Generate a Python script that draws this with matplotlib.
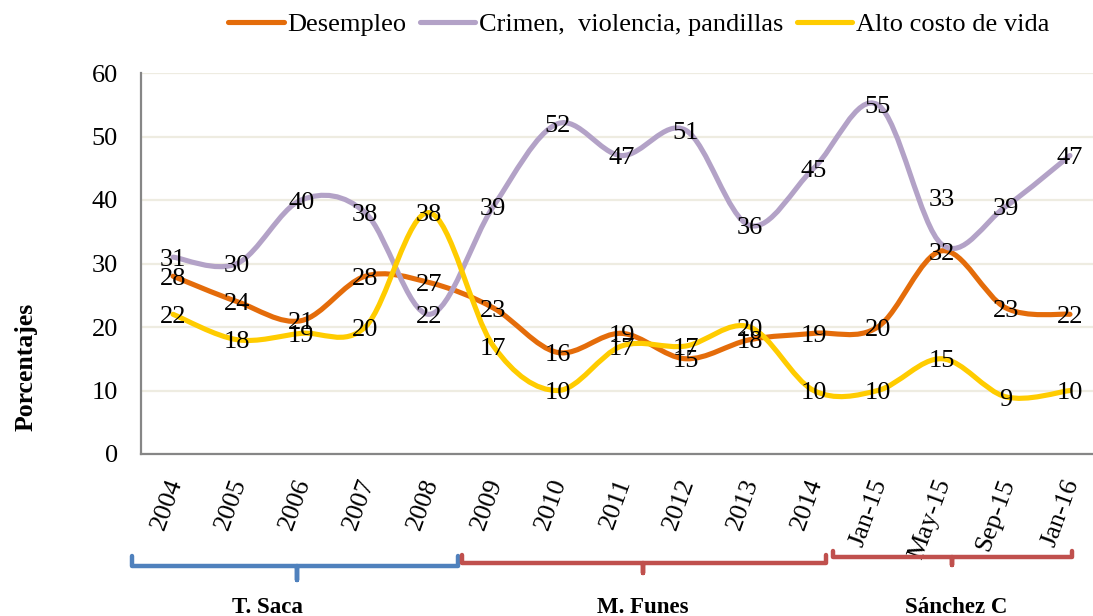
import numpy as np
import matplotlib
matplotlib.use('Agg')
import matplotlib.pyplot as plt
from matplotlib.path import Path
from matplotlib.patches import PathPatch
from matplotlib.lines import Line2D
import matplotlib.transforms as mtransforms

# ---------------- data ----------------
categories = ["2004", "2005", "2006", "2007", "2008", "2009", "2010", "2011",
              "2012", "2013", "2014", "Jan-15", "May-15", "Sep-15", "Jan-16"]
desempleo = [28, 24, 21, 28, 27, 23, 16, 19, 15, 18, 19, 20, 32, 23, 22]
crimen = [31, 30, 40, 38, 22, 39, 52, 47, 51, 36, 45, 55, 33, 39, 47]
costo_vida = [22, 18, 19, 20, 38, 17, 10, 17, 17, 20, 10, 10, 15, 9, 10]
series_names = ["Desempleo", "Crimen,  violencia, pandillas", "Alto costo de vida"]
y_ticks = [0, 10, 20, 30, 40, 50, 60]
group_names = ["T. Saca", "M. Funes", "Sánchez C"]

# ---------------- style / layout ----------------
FONT = "Liberation Serif"
plt.rcParams['font.family'] = [FONT, 'DejaVu Serif']
colors = ["#E46C0A", "#B3A2C7", "#FFCC00"]
W, H = 1093, 616
fig = plt.figure(figsize=(W / 100, H / 100), dpi=100)
ax = fig.add_axes([141 / W, (H - 454) / H, 961 / W, 381 / H])

ax.set_xlim(-0.5, len(categories) - 0.5)
ax.set_ylim(0, 60)
ax.set_yticks(y_ticks)
ax.set_yticklabels([str(t) for t in y_ticks], fontsize=19)
ax.yaxis.grid(True, color="#EEECE1", linewidth=1.6)
ax.set_axisbelow(True)
for s in ("top", "right"):
    ax.spines[s].set_visible(False)
for s in ("left", "bottom"):
    ax.spines[s].set_color("#868686")
    ax.spines[s].set_linewidth(1.6)
ax.tick_params(axis="y", length=0, pad=16.5)
ax.set_xticks(range(len(categories)))
ax.set_xticklabels(categories, rotation=70, ha="right", va="center",
                   rotation_mode="anchor", fontsize=19)
ax.tick_params(axis="x", length=0, pad=18.5)
shift = mtransforms.ScaledTranslation(3 / 100, 0, fig.dpi_scale_trans)
for lab in ax.get_xticklabels():
    lab.set_transform(lab.get_transform() + shift)


def smooth_path(xs, ys):
    pts = np.column_stack([xs, ys]).astype(float)
    n = len(pts)
    verts = [pts[0]]
    codes = [Path.MOVETO]
    for i in range(n - 1):
        p0 = pts[i - 1] if i > 0 else pts[i]
        p1 = pts[i]
        p2 = pts[i + 1]
        p3 = pts[i + 2] if i + 2 < n else pts[i + 1]
        c1 = p1 + (p2 - p0) / 6.0
        c2 = p2 - (p3 - p1) / 6.0
        verts += [c1, c2, p2]
        codes += [Path.CURVE4] * 3
    return Path(verts, codes)


x = np.arange(len(categories))
all_series = [desempleo, crimen, costo_vida]
for k, (vals, col) in enumerate(zip(all_series, colors)):
    patch = PathPatch(smooth_path(x, vals), facecolor="none", edgecolor=col,
                      lw=3.7, capstyle="round", joinstyle="round", zorder=3 + k)
    ax.add_patch(patch)

# data labels (centered on points); one label moved up as in the original
label_offsets = {(1, 12): 47}
for k, vals in enumerate(all_series):
    for i, v in enumerate(vals):
        dy = label_offsets.get((k, i), 0)
        ax.annotate(str(v), (i, v), xytext=(0, -8.7 + dy), textcoords="offset pixels",
                    ha="center", va="baseline", fontsize=19, color="black",
                    zorder=10, annotation_clip=False)

# legend
handles = [Line2D([0], [0], color=c, lw=3.7, solid_capstyle="round") for c in colors]
fig.legend(handles, series_names, loc="center", bbox_to_anchor=(639 / W, 1 - 24.5 / H),
           ncol=3, frameon=False, handlelength=2.1, handletextpad=0.15,
           columnspacing=0.5, prop={"family": FONT, "size": 19})

# y label
fig.text(26 / W, 1 - 367 / H, "Porcentajes", rotation=90, ha="center", va="center",
         fontsize=18.5, fontweight="bold")

# group brackets (x in category units, y in figure pixels from top)
bracket_colors = ["#4F81BD", "#C0504D", "#C0504D"]
bracket_span = [(-0.64, 1.93, 4.45), (4.51, 7.34, 10.19), (10.30, 12.16, 14.03)]
bracket_y = [(556, 566, 580), (555, 563, 573), (551, 557, 565)]
label_x = [1.48, 7.33, 12.22]
btrans = mtransforms.blended_transform_factory(ax.transData, fig.transFigure)
for (x0, xc, x1), (ye, yl, yt), col, name, lx in zip(bracket_span, bracket_y,
                                                     bracket_colors, group_names, label_x):
    fy = lambda p: 1 - p / H
    xs_b = [x0, x0, xc, xc, xc, x1, x1]
    ys_b = [fy(ye), fy(yl), fy(yl), fy(yt), fy(yl), fy(yl), fy(ye)]
    ln = Line2D(xs_b, ys_b, color=col, lw=3.2, transform=btrans, clip_on=False,
                solid_joinstyle="round", solid_capstyle="round")
    fig.add_artist(ln)
    fig.text(lx, 1 - 613 / H, name, transform=btrans, ha="center", va="baseline",
             fontsize=16.5, fontweight="bold")

fig.savefig("out.png", dpi=100)
